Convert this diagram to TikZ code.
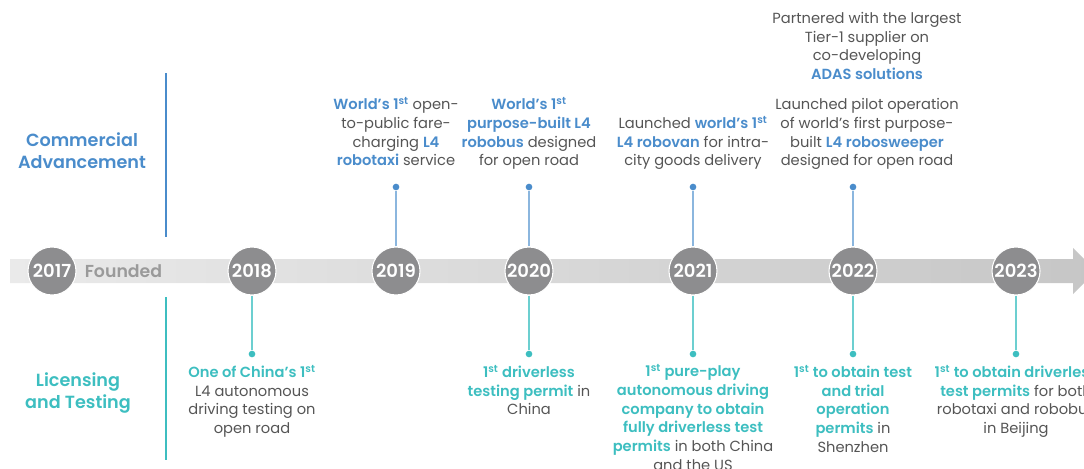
\documentclass[tikz,border=0pt]{standalone}
\usepackage{fontspec}
\setmainfont{Poppins}[BoldFont={Poppins SemiBold}]
\usetikzlibrary{positioning}

\definecolor{advblue}{HTML}{4A8CCB}
\definecolor{stemblue}{HTML}{8BB6DE}
\definecolor{licteal}{HTML}{3DBEC0}
\definecolor{stemteal}{HTML}{6CCFD0}
\definecolor{yeargray}{HTML}{8D8D8F}
\definecolor{foundgray}{HTML}{9A9A9A}
\definecolor{bodygray}{HTML}{555555}
\definecolor{bandleft}{HTML}{EAEAEA}
\definecolor{bandright}{HTML}{C6C6C6}

\newcommand\bluebf[1]{\textcolor{advblue}{\textbf{#1}}}
\newcommand\tealbf[1]{\textcolor{licteal}{\textbf{#1}}}
\newcommand\onest{1\smash{\textsuperscript{st}}}

\tikzset{
  year/.style={circle, fill=yeargray, draw=white, line width=0.8pt, minimum size=36pt,
    inner sep=0pt, text=white, font=\fontsize{13.5}{13.5}\selectfont\bfseries},
  event/.style={align=center, text=bodygray, inner sep=0pt, text depth=3pt,
    font=\fontsize{11}{14}\selectfont},
  header/.style={align=center, inner sep=0pt, font=\fontsize{13.2}{16.5}\selectfont\bfseries},
  dotblue/.style={circle, fill=advblue, minimum size=5pt, inner sep=0pt},
  dotteal/.style={circle, fill=licteal, minimum size=5pt, inner sep=0pt},
  stemb/.style={stemblue, line width=1pt},
  stemt/.style={stemteal, line width=1pt}
}

\begin{document}
\begin{tikzpicture}[x=0.75pt, y=-0.75pt]
\useasboundingbox (0,0) rectangle (1084,468);
\clip (0,0) rectangle (1084,468);

% timeline band
\shade[left color=bandleft, right color=bandright]
  (10,259) -- (1073,259) -- (1073,248) -- (1096,271) -- (1073,294) -- (1073,283) -- (10,283) -- cycle;

% section labels
\draw[advblue, line width=2.2pt] (166,73) -- (166,237);
\draw[licteal, line width=2.2pt] (166,297) -- (166,460);
\node[header, text=advblue] (commercial) at (82,151) {Commercial\\Advancement};
\node[header, text=licteal] (licensing) at (78,393) {Licensing\\and Testing};

% years
\foreach \yr/\px in {2017/52, 2018/252, 2019/396, 2020/529, 2021/693, 2022/853, 2023/1016}
  \node[year] (y\yr) at (\px,271) {\yr};
\node[right=6pt of y2017, inner sep=0pt, text=foundgray,
  font=\fontsize{13}{13}\selectfont\bfseries] (founded) {Founded};

% commercial advancement
\node[dotblue] (c2019) at (396,187) {};
\node[dotblue] (c2020) at (529,187) {};
\node[dotblue] (c2021) at (693,187) {};
\node[dotblue] (c2022) at (853,187) {};
\foreach \yr in {2019,2020,2021,2022}
  \draw[stemb] (y\yr) -- (c\yr);

\node[event, above=10pt of c2019] (t2019)
  {\bluebf{World's \onest} open-\\to-public fare-\\charging \bluebf{L4}\\\bluebf{robotaxi} service};
\node[event, above=10pt of c2020] (t2020)
  {\bluebf{World's \onest}\\\bluebf{purpose-built L4}\\\bluebf{robobus} designed\\for open road};
\node[event, above=10pt of c2021] (t2021)
  {Launched \bluebf{world's \onest}\\\bluebf{L4 robovan} for intra-\\city goods delivery};
\node[event, above=10pt of c2022, xshift=10.5pt] (t2022)
  {Launched pilot operation\\of world's first purpose-\\built \bluebf{L4 robosweeper}\\designed for open road};
\node[event, above=11pt of t2022] (p2022)
  {Partnered with the largest\\Tier-1 supplier on\\co-developing\\\bluebf{ADAS solutions}};

% licensing and testing
\node[dotteal] (l2018) at (252,354) {};
\node[dotteal] (l2020) at (529,354) {};
\node[dotteal] (l2021) at (693,354) {};
\node[dotteal] (l2022) at (853,354) {};
\node[dotteal] (l2023) at (1016,354) {};
\foreach \yr in {2018,2020,2021,2022,2023}
  \draw[stemt] (y\yr) -- (l\yr);

\node[event, below=6pt of l2018] (b2018)
  {\tealbf{One of China's \onest}\\L4 autonomous\\driving testing on\\open road};
\node[event, below=6pt of l2020] (b2020)
  {\tealbf{\onest{} driverless}\\\tealbf{testing permit} in\\China};
\node[event, below=6pt of l2021] (b2021)
  {\tealbf{\onest{} pure-play}\\\tealbf{autonomous driving}\\\tealbf{company to obtain}\\\tealbf{fully driverless test}\\\tealbf{permits} in both China\\and the US};
\node[event, below=6pt of l2022] (b2022)
  {\tealbf{\onest{} to obtain test}\\\tealbf{and trial}\\\tealbf{operation}\\\tealbf{permits} in\\Shenzhen};
\node[event, below=6pt of l2023] (b2023)
  {\tealbf{\onest{} to obtain driverless}\\\tealbf{test permits} for both\\robotaxi and robobus\\in Beijing};
\end{tikzpicture}
\end{document}
